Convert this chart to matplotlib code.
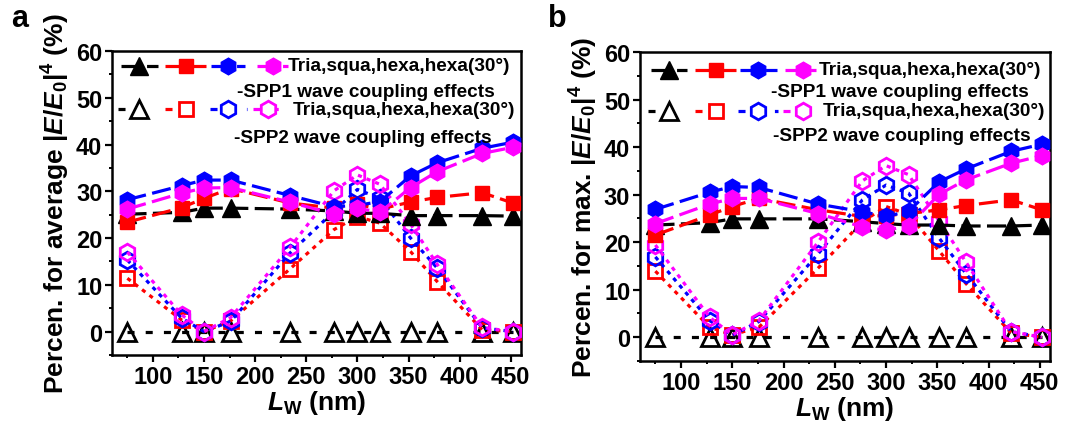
import matplotlib
matplotlib.use("Agg")
import matplotlib.pyplot as plt
from matplotlib.ticker import MultipleLocator

plt.rcParams['font.family'] = ['Liberation Sans', 'DejaVu Sans']
plt.rcParams['font.weight'] = 'bold'
plt.rcParams['mathtext.fontset'] = 'custom'
plt.rcParams['mathtext.rm'] = 'Liberation Sans:bold'
plt.rcParams['mathtext.it'] = 'Liberation Sans:bold:italic'
plt.rcParams['mathtext.bf'] = 'Liberation Sans:bold'

# ---------------- data ----------------
lw_nm = [75, 128, 150, 176, 234, 277, 300, 322, 352, 378, 422, 452]

# panel a: average |E/E0|^4
a_spp1_tria = [25.1, 25.5, 26.4, 26.4, 26.2, 25.8, 25.3, 25.3, 24.8, 24.8, 24.8, 24.7]
a_spp1_squa = [23.4, 26.5, 28.5, 30.6, 27.5, 26.4, 27.2, 26.2, 27.7, 28.7, 29.7, 27.5]
a_spp1_hexa = [28.2, 31.2, 32.4, 32.4, 29.1, 26.7, 27.0, 27.8, 33.3, 36.1, 39.2, 40.5]
a_spp1_hexa30 = [26.2, 29.6, 30.7, 30.8, 27.7, 25.1, 26.4, 25.5, 30.8, 34.2, 38.1, 39.4]
a_spp2_tria = [0, 0, 0, 0, 0, 0, 0, 0, 0, 0, 0, 0]
a_spp2_squa = [11.4, 2.5, 0.0, 2.3, 13.4, 21.8, 24.6, 23.2, 17.1, 10.7, 0.4, 0.0]
a_spp2_hexa = [15.3, 2.9, 0.0, 2.2, 16.8, 25.7, 30.4, 28.5, 20.0, 13.6, 0.8, 0.0]
a_spp2_hexa30 = [17.0, 3.6, 0.0, 3.0, 18.0, 30.1, 33.5, 31.5, 23.0, 14.4, 0.9, 0.0]

# panel b: max |E/E0|^4
b_spp1_tria = [23.6, 24.1, 24.9, 24.9, 24.9, 24.3, 23.9, 23.6, 23.6, 23.4, 23.4, 23.6]
b_spp1_squa = [21.5, 25.7, 27.5, 29.2, 26.8, 25.4, 25.6, 26.0, 26.8, 27.7, 28.9, 26.8]
b_spp1_hexa = [26.9, 30.5, 31.7, 31.5, 28.0, 26.4, 25.4, 26.5, 32.7, 35.4, 39.1, 40.6]
b_spp1_hexa30 = [23.9, 28.0, 29.2, 29.2, 26.0, 23.2, 22.5, 23.4, 30.1, 33.1, 36.6, 38.2]
b_spp2_tria = [0, 0, 0, 0, 0, 0, 0, 0, 0, 0, 0, 0]
b_spp2_squa = [13.9, 2.1, 0.5, 2.1, 14.6, 24.3, 27.5, 25.8, 18.1, 11.3, 0.9, 0.0]
b_spp2_hexa = [16.9, 3.5, 0.4, 3.3, 17.6, 28.9, 32.0, 30.3, 20.8, 13.4, 1.2, 0.0]
b_spp2_hexa30 = [19.4, 4.2, 0.5, 3.5, 20.1, 32.9, 36.1, 34.2, 24.4, 15.8, 1.2, 0.0]

legend_text = "Tria,squa,hexa,hexa(30°)"
spp1_text = "-SPP1 wave coupling effects"
spp2_text = "-SPP2 wave coupling effects"
ylabels = [r"Percen. for average |$\mathit{E}$/$\mathit{E}_{\mathrm{0}}$|$^{\mathrm{4}}$ (%)",
           r"Percen. for max. |$\mathit{E}$/$\mathit{E}_{\mathrm{0}}$|$^{\mathrm{4}}$ (%)"]
xlabel = r"$\mathit{L}_{\mathrm{W}}$ (nm)"
panel_letters = ["a", "b"]

colors = ["black", "red", "blue", "magenta"]
markers = ["^", "s", "h", "h"]
msizes = [12.5, 10, 12, 12]

dash1 = (0, (6, 2))
dot2_black = (0, (2.2, 3.5))
dot2_col = (0, (1.3, 1.6))

fig = plt.figure(figsize=(10.67, 4.27), dpi=100)
ax_a = fig.add_axes([0.105, 0.1663, 0.3833, 0.7119])
ax_b = fig.add_axes([0.5998, 0.1522, 0.3843, 0.7237])

panels = [
    (ax_a, [a_spp1_tria, a_spp1_squa, a_spp1_hexa, a_spp1_hexa30],
     [a_spp2_tria, a_spp2_squa, a_spp2_hexa, a_spp2_hexa30]),
    (ax_b, [b_spp1_tria, b_spp1_squa, b_spp1_hexa, b_spp1_hexa30],
     [b_spp2_tria, b_spp2_squa, b_spp2_hexa, b_spp2_hexa30]),
]

# legend layout (axes coords)
leg_cfg = [
    dict(r1=0.952, r2=0.866, r3=0.809, r4=0.717,
         s1=[(0.021, 0.112, 0.067), (0.130, 0.230, 0.181), (0.241, 0.325, 0.284), (0.354, 0.430, 0.394)],
         s3=[(0.015, 0.100, 0.066), (0.130, 0.215, 0.181), (0.240, 0.329, 0.283), (0.345, 0.415, 0.381)],
         t1=0.430, t3=0.443, c2=0.621, c4=0.612),
    dict(r1=0.943, r2=0.871, r3=0.810, r4=0.729,
         s1=[(0.026, 0.114, 0.071), (0.134, 0.234, 0.185), (0.244, 0.333, 0.287), (0.353, 0.429, 0.397)],
         s3=[(0.020, 0.105, 0.071), (0.134, 0.211, 0.185), (0.239, 0.337, 0.287), (0.349, 0.431, 0.398)],
         t1=0.437, t3=0.446, c2=0.634, c4=0.638),
]

for i, (ax, spp1, spp2) in enumerate(panels):
    # SPP2 (open markers, dotted)
    for k in range(4):
        ls = dot2_black if k == 0 else dot2_col
        ax.plot(lw_nm, spp2[k], linestyle=ls, color=colors[k], lw=2.3,
                marker=markers[k], ms=msizes[k], mfc='none', mec=colors[k], mew=2.0, zorder=3)
    # SPP1 (filled markers, dashed)
    for k in range(4):
        ax.plot(lw_nm, spp1[k], linestyle=dash1, color=colors[k], lw=2.3,
                marker=markers[k], ms=msizes[k], mfc=colors[k], mec=colors[k], zorder=4)

    ax.set_xlim(60, 460)
    ax.set_ylim(-5, 60)
    ax.xaxis.set_major_locator(MultipleLocator(50))
    ax.xaxis.set_minor_locator(MultipleLocator(25))
    ax.yaxis.set_major_locator(MultipleLocator(10))
    ax.yaxis.set_minor_locator(MultipleLocator(5))
    ax.tick_params(which='major', direction='out', length=5, width=1.6, labelsize=17, pad=2)
    ax.tick_params(which='minor', direction='out', length=2.5, width=1.4)
    for sp in ax.spines.values():
        sp.set_linewidth(1.8)
    for lab in ax.get_xticklabels() + ax.get_yticklabels():
        lab.set_fontweight('bold')
    ax.set_xlabel(xlabel, fontsize=19, fontweight='bold', labelpad=0)
    ax.set_ylabel(ylabels[i], fontsize=19, fontweight='bold', labelpad=3)

    # legend
    cfg = leg_cfg[i]
    for k in range(4):
        x0, x1, xm = cfg['s1'][k]
        ax.plot([x0, x1], [cfg['r1']] * 2, transform=ax.transAxes, color=colors[k],
                linestyle=dash1, lw=2.3, clip_on=False, zorder=6)
        ax.plot([xm], [cfg['r1']], transform=ax.transAxes, color=colors[k], marker=markers[k],
                ms=msizes[k], mfc=colors[k], mec=colors[k], clip_on=False, zorder=7)
        x0, x1, xm = cfg['s3'][k]
        ls = dot2_black if k == 0 else (0, (2.2, 3.5))
        ax.plot([x0, x1], [cfg['r3']] * 2, transform=ax.transAxes, color=colors[k],
                linestyle=ls, lw=2.3, clip_on=False, zorder=6)
        ax.plot([xm], [cfg['r3']], transform=ax.transAxes, color=colors[k], marker=markers[k],
                ms=msizes[k], mfc='white', mec=colors[k], mew=2.0, clip_on=False, zorder=7)
    ax.text(cfg['t1'], cfg['r1'], legend_text, transform=ax.transAxes, fontsize=13.7,
            fontweight='bold', ha='left', va='center', zorder=8)
    ax.text(cfg['t3'], cfg['r3'], legend_text, transform=ax.transAxes, fontsize=13.7,
            fontweight='bold', ha='left', va='center', zorder=8)
    ax.text(cfg['c2'], cfg['r2'], spp1_text, transform=ax.transAxes, fontsize=13.7,
            fontweight='bold', ha='center', va='center', zorder=8)
    ax.text(cfg['c4'], cfg['r4'], spp2_text, transform=ax.transAxes, fontsize=13.7,
            fontweight='bold', ha='center', va='center', zorder=8)

fig.text(20 / 1067, 1 - 19 / 427, panel_letters[0], fontsize=22, fontweight='bold', ha='center', va='center')
fig.text(557 / 1067, 1 - 19 / 427, panel_letters[1], fontsize=22, fontweight='bold', ha='center', va='center')

fig.savefig("out.png", dpi=100)
